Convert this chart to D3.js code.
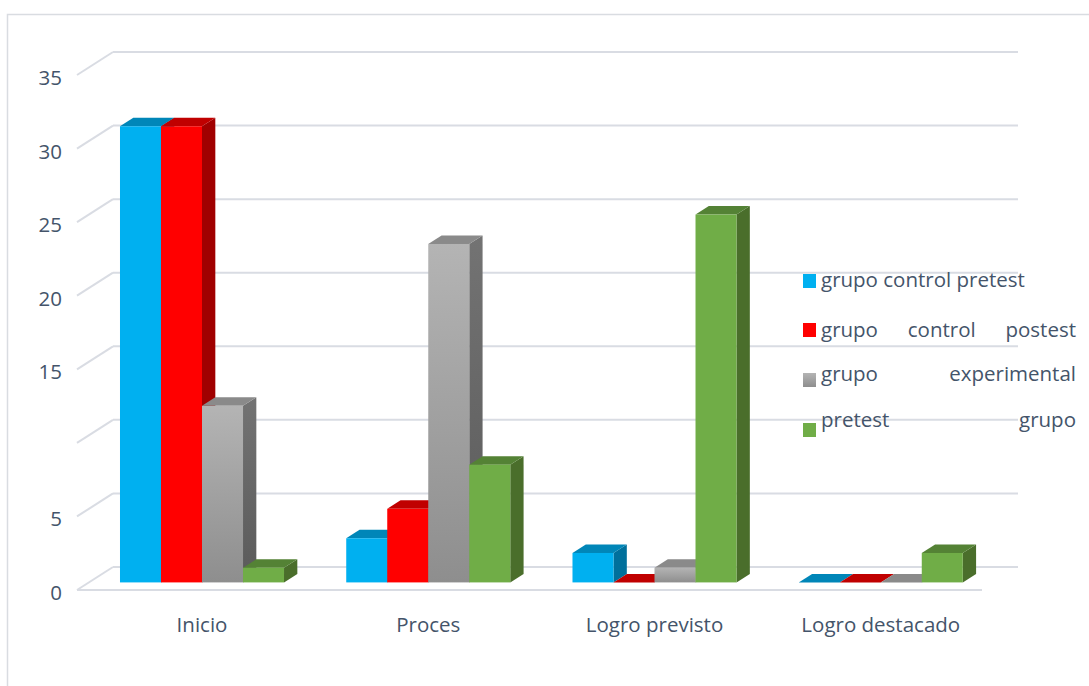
<!DOCTYPE html>
<html>
<head>
<meta charset="utf-8">
<script src="https://cdn.jsdelivr.net/npm/d3@7"></script>
<style>
  body { margin: 0; background: #fff; }
  text { font-family: "Open Sans", sans-serif; fill: #44546a; }
</style>
</head>
<body>
<svg id="chart" width="1089" height="686"></svg>
<script>
// ---- data ----
const categories = ["Inicio", "Proces", "Logro previsto", "Logro destacado"];
const seriesNames = ["grupo control pretest", "grupo control postest", "grupo experimental", "pretest grupo"];
const controlPretest = [31, 3, 2, 0];
const controlPostest = [31, 5, 0, 0];
const experimental = [12, 23, 1, 0];
const pretestGrupo = [1, 8, 25, 2];
const yTicks = [0, 5, 10, 15, 20, 25, 30, 35];
const yTickLabels = ["0", "5", "", "15", "20", "25", "30", "35"];
const legendJustify = [false, true, true, true];

const seriesValues = [controlPretest, controlPostest, experimental, pretestGrupo];

// ---- layout ----
const svg = d3.select("#chart");
const FONT = 20.5;
const plot = { x0: 77, x1: 982, yTop: 75, yBase: 590 };
const DEPTH = { dx: 36, dy: -23 };          // full depth of the 3-D box
const barStart = 0.33, barDepth = 0.37;    // bars sit in the middle of the depth

const y = d3.scaleLinear().domain([0, 35]).range([plot.yBase, plot.yTop]);
const x = d3.scaleBand().domain(categories).range([plot.x0, plot.x1])
  .paddingInner(0.275).paddingOuter(0.1375);
const xs = d3.scaleBand().domain(d3.range(seriesNames.length)).range([0, x.bandwidth()]);

// ---- colours ----
const faces = [
  { front: "#00b0f0", top: "#0086b8", side: "#00709c" },
  { front: "#ff0000", top: "#c00000", side: "#a00000" },
  { front: "url(#grayFront)", top: "#8a8a8a", side: "url(#graySide)" },
  { front: "#70ad47", top: "#548235", side: "#4a6e2b" }
];

const defs = svg.append("defs");
const g1 = defs.append("linearGradient").attr("id", "grayFront").attr("x1", 0).attr("y1", 0).attr("x2", 0).attr("y2", 1);
g1.append("stop").attr("offset", "0%").attr("stop-color", "#b4b4b4");
g1.append("stop").attr("offset", "100%").attr("stop-color", "#8e8e8e");
const g2 = defs.append("linearGradient").attr("id", "graySide").attr("x1", 0).attr("y1", 0).attr("x2", 0).attr("y2", 1);
g2.append("stop").attr("offset", "0%").attr("stop-color", "#737373");
g2.append("stop").attr("offset", "100%").attr("stop-color", "#5a5a5a");

// ---- outer frame ----
svg.append("path")
  .attr("d", "M7.5,690 V14.5 H1095")
  .attr("fill", "none").attr("stroke", "#d9dce1").attr("stroke-width", 1.5);

// ---- walls & gridlines ----
const grid = svg.append("g").attr("stroke", "#d9dce3").attr("stroke-width", 2).attr("fill", "none");
yTicks.forEach(v => {
  const yy = y(v);
  grid.append("line")
    .attr("x1", plot.x0).attr("y1", yy)
    .attr("x2", plot.x0 + DEPTH.dx).attr("y2", yy + DEPTH.dy);
  grid.append("line")
    .attr("x1", plot.x0 + DEPTH.dx).attr("y1", yy + DEPTH.dy)
    .attr("x2", plot.x1 + DEPTH.dx).attr("y2", yy + DEPTH.dy);
});
grid.append("line")
  .attr("x1", plot.x0).attr("y1", y(0))
  .attr("x2", plot.x1).attr("y2", y(0));

// ---- y axis labels ----
svg.append("g").selectAll("text")
  .data(yTicks)
  .join("text")
  .attr("x", 62)
  .attr("y", d => y(d) + 2)
  .attr("text-anchor", "end")
  .attr("dominant-baseline", "central")
  .style("font-size", FONT + "px")
  .text((d, i) => yTickLabels[i]);

// ---- category labels ----
svg.append("g").selectAll("text")
  .data(categories)
  .join("text")
  .attr("x", d => x(d) + x.bandwidth() / 2 + DEPTH.dx * barStart)
  .attr("y", 632)
  .attr("text-anchor", "middle")
  .style("font-size", FONT + "px")
  .text(d => d);

// ---- 3-D bars ----
const bx = DEPTH.dx * barStart, by = DEPTH.dy * barStart;
const ddx = DEPTH.dx * barDepth, ddy = DEPTH.dy * barDepth;
const bars = svg.append("g");
categories.forEach((cat, ci) => {
  seriesValues.forEach((vals, si) => {
    const v = vals[ci];
    const x0 = x(cat) + xs(si) + bx;
    const w = xs.bandwidth();
    const yt = y(v) + by, yb = y(0) + by;
    const f = faces[si];
    const g = bars.append("g");
    if (v > 0) {
      g.append("polygon")
        .attr("points", [[x0 + w, yt], [x0 + w + ddx, yt + ddy], [x0 + w + ddx, yb + ddy], [x0 + w, yb]].join(" "))
        .attr("fill", f.side);
    }
    g.append("polygon")
      .attr("points", [[x0, yt], [x0 + ddx, yt + ddy], [x0 + w + ddx, yt + ddy], [x0 + w, yt]].join(" "))
      .attr("fill", f.top);
    if (v > 0) {
      g.append("rect")
        .attr("x", x0).attr("y", yt)
        .attr("width", w).attr("height", yb - yt)
        .attr("fill", f.front);
    }
  });
});

// ---- legend ----
const legendX = 803, textX = 821, textRight = 1076;
const markerBottom = [288, 337, 387, 437];
const textBase = [287, 337, 381, 427];
const legend = svg.append("g");
seriesNames.forEach((name, i) => {
  legend.append("rect")
    .attr("x", legendX).attr("y", markerBottom[i] - 14)
    .attr("width", 13).attr("height", 14)
    .attr("fill", faces[i].front);
  const words = legendJustify[i] ? name.split(" ") : [name];
  const nodes = words.map(wd => legend.append("text")
    .attr("y", textBase[i])
    .style("font-size", FONT + "px")
    .text(wd));
  if (nodes.length === 1) {
    nodes[0].attr("x", textX);
  } else {
    const widths = nodes.map(n => n.node().getComputedTextLength());
    const gap = (textRight - textX - d3.sum(widths)) / (nodes.length - 1);
    let cx = textX;
    nodes.forEach((n, k) => { n.attr("x", cx); cx += widths[k] + gap; });
  }
});
</script>
</body>
</html>
